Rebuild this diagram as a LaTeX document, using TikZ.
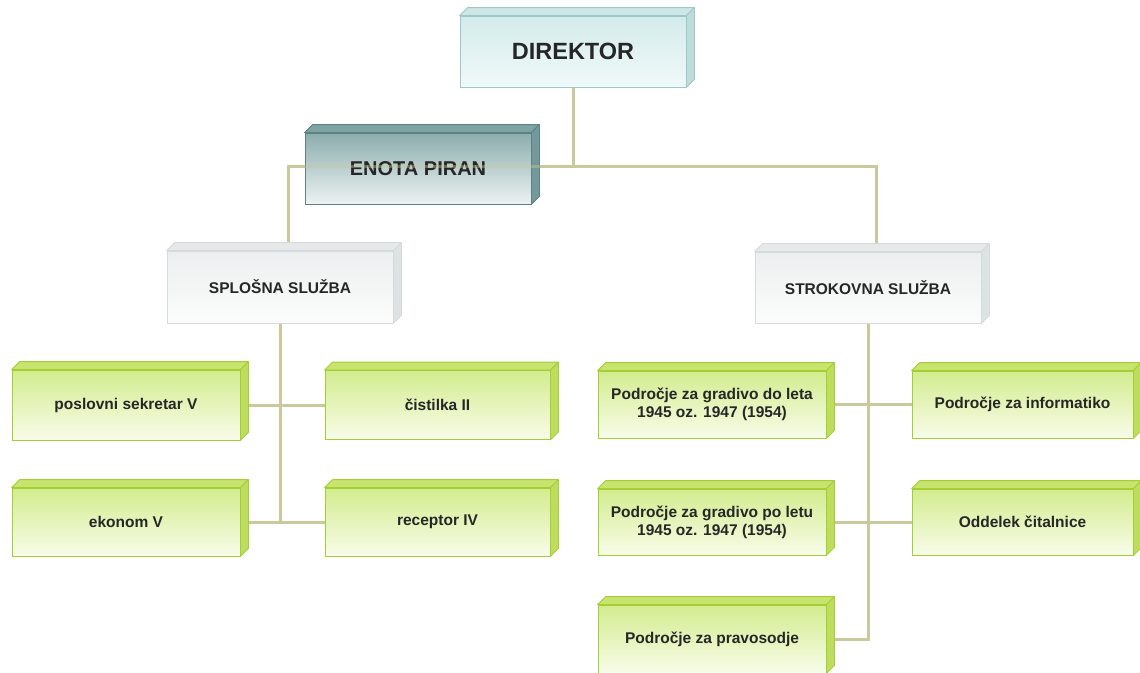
\documentclass[tikz,border=0pt]{standalone}
\usepackage{fontspec}
\setmainfont{Liberation Sans}
\pgfdeclarelayer{bg}
\pgfdeclarelayer{fg}
\pgfsetlayers{bg,main,fg}
\definecolor{lnk}{HTML}{C9C99B}
\definecolor{gEdge}{HTML}{A3CF35}
\definecolor{gTop}{HTML}{D3EC8E}
\definecolor{gBot}{HTML}{F8FCE9}
\definecolor{gLid}{HTML}{C8E36E}
\definecolor{gSide}{HTML}{BEDD5E}
\definecolor{wEdge}{HTML}{D6DADA}
\definecolor{wTop}{HTML}{ECEFEF}
\definecolor{wBot}{HTML}{FCFCFC}
\definecolor{wLid}{HTML}{E6E9E9}
\definecolor{wSide}{HTML}{DDE2E2}
\definecolor{cEdge}{HTML}{9EC8C8}
\definecolor{cTop}{HTML}{D4EBEB}
\definecolor{cBot}{HTML}{F0F9F9}
\definecolor{cLid}{HTML}{CFE6E6}
\definecolor{cSide}{HTML}{BFDCDC}
\definecolor{tEdge}{HTML}{5C8282}
\definecolor{tTop}{HTML}{8CADAD}
\definecolor{tBot}{HTML}{EDF2F2}
\definecolor{tLid}{HTML}{80A3A3}
\definecolor{tSide}{HTML}{739A9A}
\tikzset{
  box/.style={rectangle, inner sep=0pt, align=center, line width=0.8pt, text=black!85},
  gbox/.style={box, draw=gEdge, top color=gTop, bottom color=gBot, font=\bfseries\fontsize{15.5}{18}\selectfont},
  wbox/.style={box, draw=wEdge, top color=wTop, bottom color=wBot, font=\bfseries\fontsize{15.5}{18}\selectfont},
  cbox/.style={box, draw=cEdge, top color=cTop, bottom color=cBot, font=\bfseries\fontsize{23.5}{26}\selectfont},
  tbox/.style={box, draw=tEdge, top color=tTop, bottom color=tBot, font=\bfseries\fontsize{20}{22}\selectfont},
  link/.style={draw=lnk, line width=3pt},
}
\newcommand\boxsides[4]{%
  \filldraw[draw=#4, fill=#2, line width=0.8pt, line join=round] (#1.north west) -- ++(8,-8) -- ([shift={(8,-8)}]#1.north east) -- (#1.north east) -- cycle;
  \filldraw[draw=#4, fill=#3, line width=0.8pt, line join=round] (#1.north east) -- ++(8,-8) -- ([shift={(8,-8)}]#1.south east) -- (#1.south east) -- cycle;
}
\begin{document}
\begin{tikzpicture}[x=1pt,y=-1pt]
\useasboundingbox (0,0) rectangle (1140,672);
\clip (0,0) rectangle (1140,672);
% nodes
\node[cbox, minimum width=226pt, minimum height=71pt] (dir) at (573,51.5) {DIREKTOR};
\node[tbox, minimum width=226pt, minimum height=71pt] (eno) at (418,168.5) {ENOTA PIRAN};
\node[wbox, minimum width=226pt, minimum height=72pt] (spl) at (280,287) {SPLOŠNA SLUŽBA};
\node[wbox, minimum width=226pt, minimum height=71pt] (str) at (868,287.5) {STROKOVNA SLUŽBA};
\node[gbox, minimum width=228pt, minimum height=70pt] (pos) at (126,405) {poslovni sekretar V};
\node[gbox, minimum width=225pt, minimum height=69pt] (cis) at (437.5,405) {čistilka II};
\node[gbox, minimum width=228pt, minimum height=68pt] (eko) at (126,522) {ekonom V};
\node[gbox, minimum width=225pt, minimum height=68pt] (rec) at (437.5,522) {receptor IV};
\node[gbox, minimum width=228pt, minimum height=67pt] (dol) at (712,404.5) {Področje za gradivo do leta\\1945 oz. 1947 (1954)};
\node[gbox, minimum width=221pt, minimum height=67pt] (inf) at (1022.5,404.5) {Področje za informatiko};
\node[gbox, minimum width=228pt, minimum height=66pt] (pol) at (712,522) {Področje za gradivo po letu\\1945 oz. 1947 (1954)};
\node[gbox, minimum width=221pt, minimum height=66pt] (cit) at (1022.5,522) {Oddelek čitalnice};
\node[gbox, minimum width=228pt, minimum height=68pt] (pra) at (712,639) {Področje za pravosodje};
% 3D faces
\boxsides{dir}{cLid}{cSide}{cEdge}
\boxsides{eno}{tLid}{tSide}{tEdge}
\boxsides{spl}{wLid}{wSide}{wEdge}
\boxsides{str}{wLid}{wSide}{wEdge}
\foreach \n in {pos,cis,eko,rec,dol,inf,pol,cit,pra}{\boxsides{\n}{gLid}{gSide}{gEdge}}
\coordinate (j) at (573,166);
% connectors (behind boxes)
\begin{pgfonlayer}{bg}
\draw[link] (dir.south) -- (j);
\draw[link] ([xshift=8pt]spl.north) -- ([xshift=8pt]spl.north |- j) -- ([xshift=8pt]str.north |- j) -- ([xshift=8pt]str.north);
\draw[link] (spl.south) -- (spl.south |- eko.east);
\draw[link] (pos.east) -- (cis.west);
\draw[link] (eko.east) -- (rec.west);
\draw[link] (str.south) -- (str.south |- pra.east) -- (pra.east);
\draw[link] (dol.east) -- (inf.west);
\draw[link] (pol.east) -- (cit.west);
\end{pgfonlayer}
% the line shows through the ENOTA PIRAN box
\begin{pgfonlayer}{fg}
\draw[link, draw opacity=0.4] (eno.west |- j) -- (j);
\end{pgfonlayer}
\end{tikzpicture}
\end{document}
